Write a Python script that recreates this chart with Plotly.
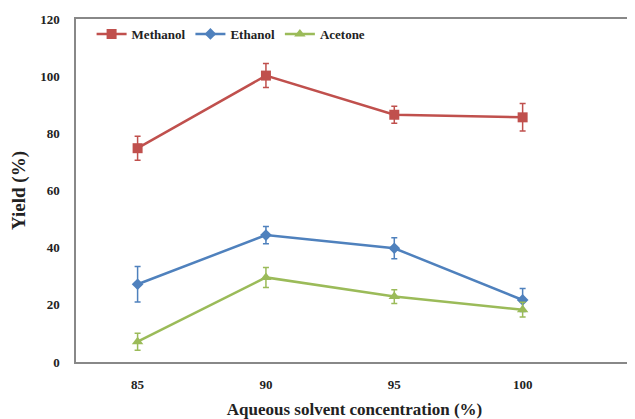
import plotly.graph_objects as go

concentration = [85, 90, 95, 100]
methanol = [74.8, 100.2, 86.5, 85.6]
methanol_err = [4.2, 4.2, 3.0, 4.8]
ethanol = [27.2, 44.4, 39.8, 21.7]
ethanol_err = [6.2, 3.0, 3.7, 4.0]
acetone = [7.1, 29.6, 22.9, 18.3]
acetone_err = [3.0, 3.5, 2.4, 2.6]

series = [
    ("Methanol", methanol, methanol_err, "#C0504D", "square", 10),
    ("Ethanol", ethanol, ethanol_err, "#4F81BD", "diamond", 9),
    ("Acetone", acetone, acetone_err, "#9BBB59", "triangle-up", 10),
]

fig = go.Figure()
for name, vals, errs, color, sym, size in series:
    fig.add_trace(go.Scatter(
        x=concentration, y=vals, name=name, mode="lines+markers",
        line=dict(color=color, width=2.5),
        marker=dict(symbol=sym, size=size, color=color),
        error_y=dict(type="data", array=errs, visible=True,
                     color=color, thickness=1.5, width=3),
    ))

font_family = "Liberation Serif"
# page body has an 8px margin, so the figure is sized to fit the window
fig.update_layout(
    width=627, height=411,
    margin=dict(l=68, r=2, t=11, b=57),
    paper_bgcolor="white", plot_bgcolor="white",
    font=dict(family=font_family, color="#222", size=12),
    showlegend=True,
    legend=dict(orientation="h", x=0.028, y=1.0, xanchor="left", yanchor="top",
                font=dict(family=font_family, size=13, color="#222", weight="bold"),
                bgcolor="rgba(0,0,0,0)", itemwidth=30, tracegroupgap=0),
    xaxis=dict(
        range=[82.6, 104.3], tickvals=concentration,
        ticktext=[str(c) for c in concentration],
        showgrid=False, zeroline=False, automargin=False,
        showline=True, linecolor="#888", linewidth=1.5, mirror=True,
        ticks="", ticklabelstandoff=10,
        tickfont=dict(family=font_family, size=13, color="#222", weight="bold"),
        title=dict(text="<b>Aqueous solvent concentration (%)</b>",
                   font=dict(family=font_family, size=17, color="#222"),
                   standoff=12),
    ),
    yaxis=dict(
        range=[0, 120], tickvals=[0, 20, 40, 60, 80, 100, 120],
        showgrid=False, zeroline=False, automargin=False,
        showline=True, linecolor="#888", linewidth=1.5, mirror=True,
        ticks="", ticklabelstandoff=12,
        tickfont=dict(family=font_family, size=13, color="#222", weight="bold"),
        title=dict(text="<b>Yield (%)</b>",
                   font=dict(family=font_family, size=19, color="#222"),
                   standoff=14),
    ),
)

fig.write_html("out.html")
